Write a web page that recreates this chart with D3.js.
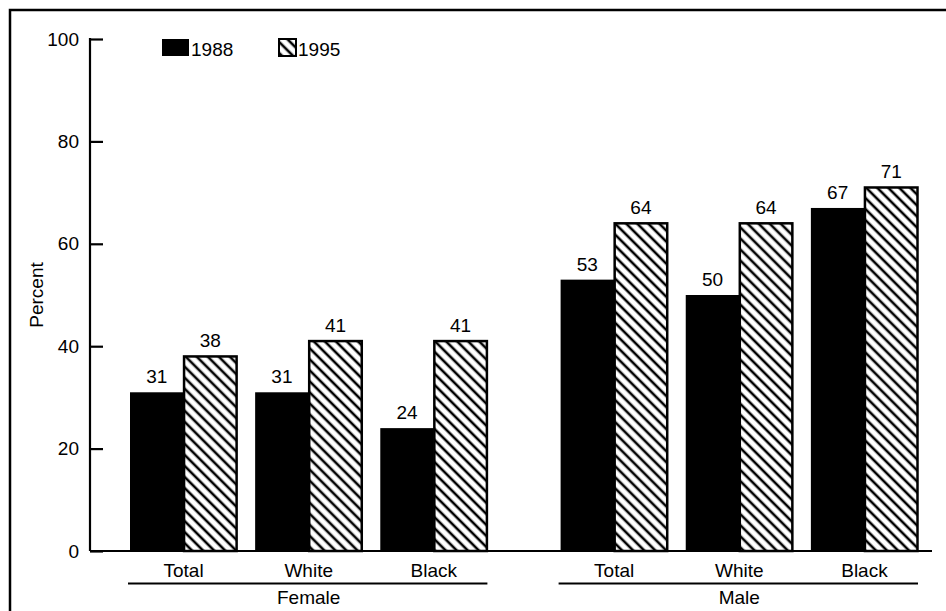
<!DOCTYPE html>
<html>
<head>
<meta charset="utf-8">
<script src="https://cdn.jsdelivr.net/npm/d3@7"></script>
<style>
  html, body { margin: 0; padding: 0; background: #fff; }
  svg { display: block; font-family: "Liberation Sans", Arial, Helvetica, sans-serif; }
</style>
</head>
<body>
<svg id="chart" width="946" height="611"></svg>
<script>
const groups = ["Female", "Male"];
const races = ["Total", "White", "Black"];
const years = ["1988", "1995"];
const values1988 = [31, 31, 24, 53, 50, 67];
const values1995 = [38, 41, 41, 64, 64, 71];
const yTicks = [0, 20, 40, 60, 80, 100];

const data = [];
groups.forEach((g, gi) => {
  races.forEach((r, ri) => {
    const idx = gi * races.length + ri;
    data.push({ group: g, race: r, year: "1988", value: values1988[idx] });
    data.push({ group: g, race: r, year: "1995", value: values1995[idx] });
  });
});

const svg = d3.select("#chart");

// Frame
svg.append("rect")
  .attr("x", 10).attr("y", 10)
  .attr("width", 1000).attr("height", 700)
  .attr("fill", "none").attr("stroke", "#000").attr("stroke-width", 2.5);

// Hatch pattern
const defs = svg.append("defs");
const pat = defs.append("pattern")
  .attr("id", "hatch")
  .attr("patternUnits", "userSpaceOnUse")
  .attr("width", 7.8).attr("height", 7.8)
  .attr("patternTransform", "rotate(-45)");
pat.append("rect").attr("width", 7.8).attr("height", 7.8).attr("fill", "#fff");
pat.append("line")
  .attr("x1", 3.9).attr("y1", -1).attr("x2", 3.9).attr("y2", 9)
  .attr("stroke", "#000").attr("stroke-width", 2.6);

const y = d3.scaleLinear().domain([0, 100]).range([551, 39]);
const xOuter = d3.scaleBand().domain(groups).range([130, 918]).paddingInner(0.17).paddingOuter(0);
const xInner = d3.scaleBand().domain(races).range([0, xOuter.bandwidth()]).paddingInner(0.144).paddingOuter(0);
const xYear = d3.scaleBand().domain(years).range([0, xInner.bandwidth()]).padding(0);

const fill = d => d === "1988" ? "#000" : "url(#hatch)";

// Y axis
const axisX = 90;
const yAxis = d3.axisRight(y).tickValues(yTicks).tickSize(13).tickFormat("");
const ya = svg.append("g").attr("transform", `translate(${axisX},0)`).call(yAxis);
ya.select(".domain").remove();
ya.selectAll(".tick line").attr("stroke", "#000").attr("stroke-width", 2.2);
svg.append("line")
  .attr("x1", axisX).attr("x2", axisX)
  .attr("y1", y(100) - 1).attr("y2", y(0))
  .attr("stroke", "#000").attr("stroke-width", 2.2);
svg.append("g").selectAll("text").data(yTicks).join("text")
  .attr("x", 79).attr("y", d => y(d)).attr("dy", "0.35em")
  .attr("text-anchor", "end").attr("font-size", 19).text(d => d);

svg.append("text")
  .attr("transform", `translate(43,${(y(0) + y(100)) / 2}) rotate(-90)`)
  .attr("text-anchor", "middle").attr("font-size", 19).text("Percent");

// Bars
const bx = d => xOuter(d.group) + xInner(d.race) + xYear(d.year);
svg.append("g").selectAll("rect").data(data).join("rect")
  .attr("x", d => d.year === "1995" ? bx(d) + 0.5 : bx(d))
  .attr("y", d => y(d.value))
  .attr("width", d => d.year === "1995" ? xYear.bandwidth() - 1 : xYear.bandwidth())
  .attr("height", d => y(0) - y(d.value))
  .attr("fill", d => fill(d.year))
  .attr("stroke", d => d.year === "1995" ? "#000" : "none")
  .attr("stroke-width", 2.5);

// Value labels
svg.append("g").selectAll("text").data(data).join("text")
  .attr("x", d => bx(d) + xYear.bandwidth() / 2)
  .attr("y", d => y(d.value) - 9)
  .attr("text-anchor", "middle").attr("font-size", 19)
  .text(d => d.value);

// Baseline
svg.append("line")
  .attr("x1", axisX).attr("x2", 932)
  .attr("y1", y(0)).attr("y2", y(0))
  .attr("stroke", "#000").attr("stroke-width", 2.2);

// Category labels
groups.forEach(g => {
  races.forEach(r => {
    svg.append("text")
      .attr("x", xOuter(g) + xInner(r) + xInner.bandwidth() / 2)
      .attr("y", 577).attr("text-anchor", "middle").attr("font-size", 19)
      .text(r);
  });
  svg.append("line")
    .attr("x1", xOuter(g) - 2).attr("x2", xOuter(g) + xOuter.bandwidth())
    .attr("y1", 583.5).attr("y2", 583.5)
    .attr("stroke", "#000").attr("stroke-width", 2.2);
  svg.append("text")
    .attr("x", xOuter(g) + xOuter.bandwidth() / 2)
    .attr("y", 604).attr("text-anchor", "middle").attr("font-size", 19)
    .text(g);
});

// Legend
const legend = svg.append("g");
const legX = [162, 279];
const legW = [27, 17];
years.forEach((yr, i) => {
  legend.append("rect")
    .attr("x", legX[i]).attr("y", 39)
    .attr("width", legW[i]).attr("height", 17)
    .attr("fill", fill(yr))
    .attr("stroke", yr === "1995" ? "#000" : "none")
    .attr("stroke-width", 2);
  legend.append("text")
    .attr("x", legX[i] + legW[i] + 2).attr("y", 56)
    .attr("font-size", 19).text(yr);
});
</script>
</body>
</html>
